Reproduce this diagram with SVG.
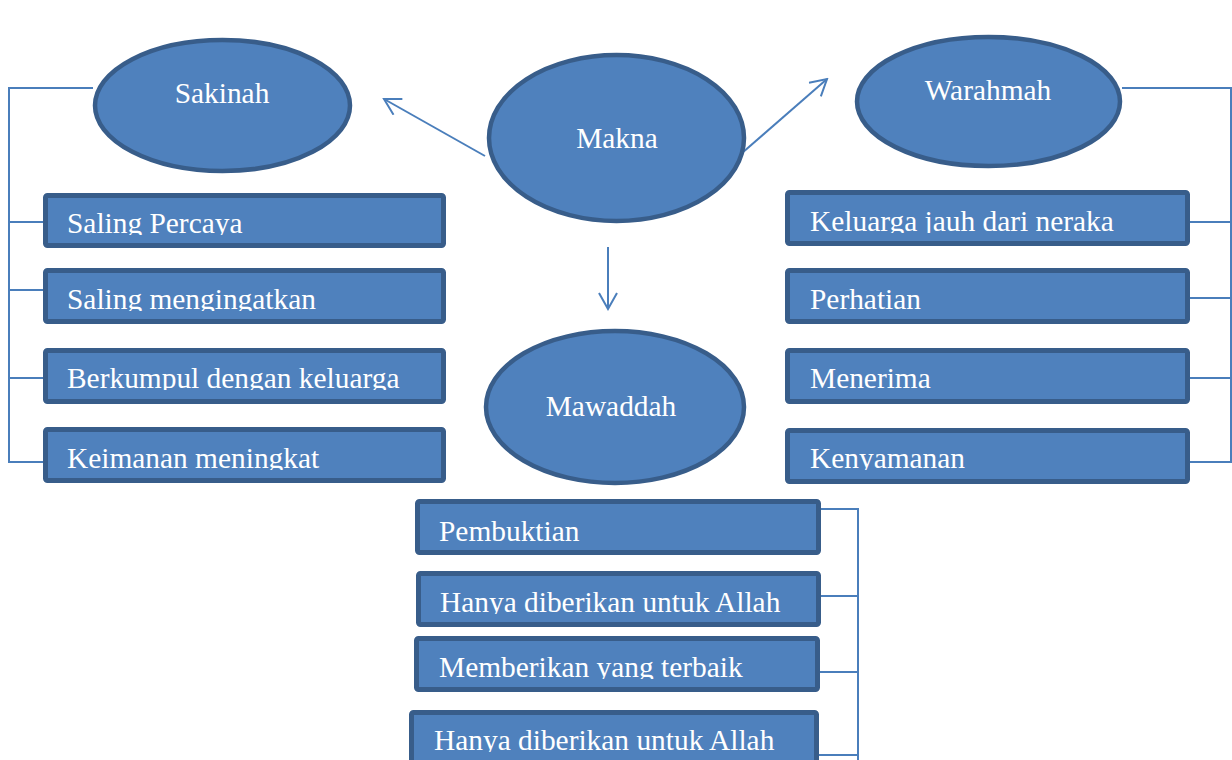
<svg xmlns="http://www.w3.org/2000/svg" width="1232" height="760" viewBox="0 0 1232 760">
<style>
.el{fill:#4F81BD;stroke:#385D8A;stroke-width:4.5}
.bx{fill:#4F81BD;stroke:#385D8A;stroke-width:5}
.t{fill:#ffffff;font-family:"Liberation Serif","Times New Roman",serif;font-size:29.4px}
.c{fill:#ffffff;font-family:"Liberation Serif","Times New Roman",serif;font-size:29.4px;text-anchor:middle}
.ln{fill:none;stroke:#4A7EBB;stroke-width:2}
</style>
<defs>
<marker id="ar" viewBox="0 0 20 20" refX="18" refY="10" markerWidth="20" markerHeight="20" markerUnits="userSpaceOnUse" orient="auto">
<path d="M2,1 L18,10 L2,19" fill="none" stroke="#4A7EBB" stroke-width="2"/>
</marker>
<clipPath id="cL1"><rect x="45" y="195" width="400" height="40"/></clipPath>
<clipPath id="cL2"><rect x="45" y="270" width="400" height="41"/></clipPath>
<clipPath id="cL3"><rect x="45" y="350" width="400" height="40"/></clipPath>
<clipPath id="cL4"><rect x="45" y="429" width="400" height="41"/></clipPath>
<clipPath id="cR1"><rect x="787" y="192" width="400" height="41"/></clipPath>
<clipPath id="cR2"><rect x="787" y="270" width="400" height="41"/></clipPath>
<clipPath id="cR3"><rect x="787" y="350" width="400" height="40"/></clipPath>
<clipPath id="cR4"><rect x="787" y="430" width="400" height="40"/></clipPath>
<clipPath id="cB1"><rect x="417" y="501" width="400" height="42"/></clipPath>
<clipPath id="cB2"><rect x="418" y="573" width="400" height="41"/></clipPath>
<clipPath id="cB3"><rect x="416" y="638" width="400" height="41"/></clipPath>
<clipPath id="cB4"><rect x="411" y="712" width="400" height="40"/></clipPath>
</defs>
<rect width="1232" height="760" fill="#ffffff"/>
<g id="connectors">
<polyline class="ln" points="93,88 9,88 9,462 44,462"/>
<line class="ln" x1="9" y1="222" x2="44" y2="222"/>
<line class="ln" x1="9" y1="290" x2="44" y2="290"/>
<line class="ln" x1="9" y1="378" x2="44" y2="378"/>
<polyline class="ln" points="1122,88 1231,88 1231,462 1189,462"/>
<line class="ln" x1="1189" y1="222" x2="1231" y2="222"/>
<line class="ln" x1="1189" y1="298" x2="1231" y2="298"/>
<line class="ln" x1="1189" y1="378" x2="1231" y2="378"/>
<polyline class="ln" points="821,509 858,509 858,760"/>
<line class="ln" x1="820" y1="596" x2="858" y2="596"/>
<line class="ln" x1="820" y1="672" x2="858" y2="672"/>
<line class="ln" x1="818" y1="755" x2="858" y2="755"/>
<line class="ln" x1="485" y1="156" x2="384" y2="99" marker-end="url(#ar)"/>
<line class="ln" x1="742" y1="153" x2="827" y2="79" marker-end="url(#ar)"/>
<line class="ln" x1="608" y1="247" x2="608" y2="309" marker-end="url(#ar)"/>
</g>
<g id="sakinah"><ellipse class="el" cx="222.5" cy="105.5" rx="127.5" ry="65.5"/><text class="c" x="222" y="103">Sakinah</text></g>
<g id="makna"><ellipse class="el" cx="616.5" cy="138" rx="127.5" ry="83"/><text class="c" x="617" y="148">Makna</text></g>
<g id="warahmah"><ellipse class="el" cx="988.5" cy="101.5" rx="131.5" ry="64.5"/><text class="c" x="988" y="100">Warahmah</text></g>
<g id="mawaddah"><ellipse class="el" cx="615" cy="407" rx="129" ry="76"/><text class="c" x="611" y="416">Mawaddah</text></g>
<g id="saling-percaya"><rect class="bx" x="45.5" y="195.5" width="398" height="50" rx="2"/><text class="t" x="67" y="233" clip-path="url(#cL1)">Saling Percaya</text></g>
<g id="saling-mengingatkan"><rect class="bx" x="45.5" y="270.5" width="398" height="51" rx="2"/><text class="t" x="67" y="309" clip-path="url(#cL2)">Saling mengingatkan</text></g>
<g id="berkumpul"><rect class="bx" x="45.5" y="350.5" width="398" height="51" rx="2"/><text class="t" x="67" y="388" clip-path="url(#cL3)">Berkumpul dengan keluarga</text></g>
<g id="keimanan"><rect class="bx" x="45.5" y="429.5" width="398" height="51" rx="2"/><text class="t" x="67" y="468" clip-path="url(#cL4)">Keimanan meningkat</text></g>
<g id="keluarga-jauh"><rect class="bx" x="787.5" y="192.5" width="400" height="51" rx="2"/><text class="t" x="810" y="231" clip-path="url(#cR1)">Keluarga jauh dari neraka</text></g>
<g id="perhatian"><rect class="bx" x="787.5" y="270.5" width="400" height="51" rx="2"/><text class="t" x="810" y="309" clip-path="url(#cR2)">Perhatian</text></g>
<g id="menerima"><rect class="bx" x="787.5" y="350.5" width="400" height="51" rx="2"/><text class="t" x="810" y="388" clip-path="url(#cR3)">Menerima</text></g>
<g id="kenyamanan"><rect class="bx" x="787.5" y="430.5" width="400" height="51" rx="2"/><text class="t" x="810" y="468" clip-path="url(#cR4)">Kenyamanan</text></g>
<g id="pembuktian"><rect class="bx" x="417.5" y="501.5" width="401" height="51" rx="2"/><text class="t" x="439" y="541" clip-path="url(#cB1)">Pembuktian</text></g>
<g id="hanya-1"><rect class="bx" x="418.5" y="573.5" width="400" height="51" rx="2"/><text class="t" x="440" y="612" clip-path="url(#cB2)">Hanya diberikan untuk Allah</text></g>
<g id="memberikan"><rect class="bx" x="416.5" y="638.5" width="401" height="51" rx="2"/><text class="t" x="439" y="677" clip-path="url(#cB3)">Memberikan yang terbaik</text></g>
<g id="hanya-2"><rect class="bx" x="411.5" y="712.5" width="405" height="55" rx="2"/><text class="t" x="434" y="750" clip-path="url(#cB4)">Hanya diberikan untuk Allah</text></g>
</svg>
